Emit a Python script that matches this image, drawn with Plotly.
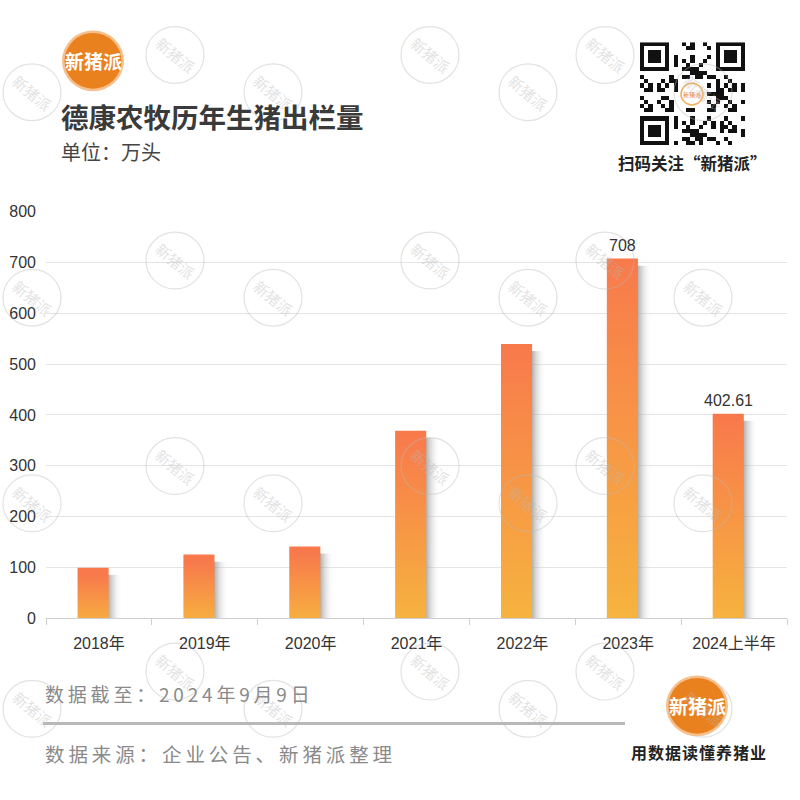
import plotly.graph_objects as go

# ---------------- data ----------------
categories = ["2018年", "2019年", "2020年", "2021年", "2022年", "2023年", "2024上半年"]
values = [99, 125, 141, 369, 540, 708, 402.61]
value_labels = ["", "", "", "", "", "708", "402.61"]
y_ticks = [0, 100, 200, 300, 400, 500, 600, 700, 800]

title_text = "德康农牧历年生猪出栏量"
unit_text = "单位：万头"
date_text = "数据截至：2024年9月9日"
source_text = "数据来源：企业公告、新猪派整理"
brand_text = "新猪派"
slogan_text = "用数据读懂养猪业"
qr_text = "扫码关注“新猪派”"

# ---------------- helpers (pixel -> paper) ----------------
W = 800.0
def X(px):
    return px / W
def Y(py):
    return 1 - py / W

def spaced(s, sep="\u2009"):
    return sep.join(list(s))

BAR_HALF = 0.147
BAR_OFF = -0.055
TOP_C = "#f87a4c"
BOT_C = "#f6b53e"
CJK = "Noto Sans CJK SC"
NUM = "Liberation Sans, Noto Sans CJK SC"

fig = go.Figure()

# bar shadows
for i, v in enumerate(values):
    c = i + BAR_OFF
    x0 = c + BAR_HALF - 0.02
    x1 = x0 + 0.15
    ytop = max(v - 14, 0)
    fig.add_trace(go.Scatter(
        x=[x0, x1, x1, x0, x0], y=[0, 0, ytop, ytop, 0],
        mode="lines", line=dict(width=0, color="rgba(0,0,0,0)"),
        fill="toself",
        fillgradient=dict(type="horizontal",
                          colorscale=[[0, "rgba(120,120,120,0.75)"], [0.35, "rgba(160,160,160,0.45)"],
                                      [1, "rgba(255,255,255,0)"]],
                          start=x0, stop=x1),
        hoverinfo="skip", showlegend=False))

# bars with vertical gradient
for i, v in enumerate(values):
    c = i + BAR_OFF
    x0, x1 = c - BAR_HALF, c + BAR_HALF
    fig.add_trace(go.Scatter(
        x=[x0, x1, x1, x0, x0], y=[0, 0, v, v, 0],
        mode="lines", line=dict(width=0, color="rgba(0,0,0,0)"),
        fill="toself",
        fillgradient=dict(type="vertical",
                          colorscale=[[0, BOT_C], [1, TOP_C]],
                          start=0, stop=v),
        name=categories[i], hovertemplate=categories[i] + ": %{text}<extra></extra>",
        text=[str(v)] * 5, showlegend=False))

# ---------------- fake QR code (decorative) ----------------
N = 25
qr = [[0] * N for _ in range(N)]
for r in range(N):
    for cc in range(N):
        qr[r][cc] = 1 if ((r * 7 + cc * 13 + (r * cc) % 5 + (r // 3) * (cc // 4)) % 5) < 2 else 0
def finder(r0, c0):
    for r in range(-1, 8):
        for cc in range(-1, 8):
            rr, c2 = r0 + r, c0 + cc
            if 0 <= rr < N and 0 <= c2 < N:
                if r in (-1, 7) or cc in (-1, 7):
                    qr[rr][c2] = 0
                elif r in (0, 6) or cc in (0, 6):
                    qr[rr][c2] = 1
                elif 2 <= r <= 4 and 2 <= cc <= 4:
                    qr[rr][c2] = 1
                else:
                    qr[rr][c2] = 0
finder(0, 0); finder(0, N - 7); finder(N - 7, 0)
for r in range(9, 16):
    for cc in range(9, 16):
        qr[r][cc] = 0
fig.add_trace(go.Heatmap(
    z=qr[::-1], xaxis="x2", yaxis="y2",
    colorscale=[[0, "#ffffff"], [1, "#111111"]], showscale=False,
    hoverinfo="skip", zmin=0, zmax=1))

# ---------------- layout ----------------
fig.update_layout(
    width=800, height=800,
    margin=dict(l=0, r=0, t=0, b=0),
    paper_bgcolor="white", plot_bgcolor="white",
    xaxis=dict(domain=[X(46), X(787)], range=[-0.5, 6.5],
               tickmode="array", tickvals=list(range(len(categories))), ticktext=categories,
               ticks="", showgrid=False, zeroline=False,
               showline=True, linecolor="#cfcfcf", linewidth=1,
               tickfont=dict(family=NUM, size=16, color="#333333"),
               ticklabelstandoff=11,
               minor=dict(tickmode="array", tickvals=[k - 0.5 for k in range(len(categories) + 1)],
                          ticks="outside", ticklen=6, tickcolor="#cfcfcf", showgrid=False)),
    yaxis=dict(domain=[Y(623.3), Y(208.3)], range=[0, 800],
               tickmode="array", tickvals=y_ticks, ticks="",
               showgrid=True, gridcolor="#e4e4e4", gridwidth=1,
               zeroline=False, showline=False,
               tickfont=dict(family=NUM, size=16, color="#333333"),
               ticklabelstandoff=9),
    xaxis2=dict(domain=[X(640), X(745)], range=[-0.5, N - 0.5], visible=False, anchor="y2"),
    yaxis2=dict(domain=[Y(140), Y(35)], range=[-0.5, N - 0.5], visible=False, anchor="x2"),
)

shapes = []
annotations = []

# value labels (from data)
for i, (v, lab) in enumerate(zip(values, value_labels)):
    if lab:
        annotations.append(dict(xref="x", yref="y", x=i + BAR_OFF, y=v, text=lab,
                                showarrow=False, xanchor="center", yanchor="bottom", yshift=3,
                                font=dict(family=NUM, size=16, color="#333333")))

# watermarks
wm_col = "rgba(185,185,185,0.42)"
for yb in [48, 258, 468, 678]:
    for xb in [-66, 175, 430, 605]:
        for dx, dy in [(0, 0), (98, 38)]:
            cx, cy = xb + dx, yb + dy
            if cx < 0:
                continue
            rr = 29
            shapes.append(dict(type="circle", xref="paper", yref="paper",
                               x0=X(cx - rr), x1=X(cx + rr), y0=Y(cy + rr), y1=Y(cy - rr),
                               line=dict(color=wm_col, width=1.2), layer="above"))
            annotations.append(dict(xref="paper", yref="paper", x=X(cx), y=Y(cy),
                                    xanchor="center", yanchor="middle",
                                    text=brand_text, showarrow=False, textangle=40,
                                    font=dict(family=CJK, size=15, color=wm_col)))

# logos
def logo(cx, cy, r):
    shapes.append(dict(type="circle", xref="paper", yref="paper",
                       x0=X(cx - r), x1=X(cx + r), y0=Y(cy + r), y1=Y(cy - r),
                       fillcolor="#f6c08e", line=dict(width=0), layer="above"))
    r2 = r - 2.5
    shapes.append(dict(type="circle", xref="paper", yref="paper",
                       x0=X(cx - r2), x1=X(cx + r2), y0=Y(cy + r2), y1=Y(cy - r2),
                       fillcolor="#e9811f", line=dict(width=0), layer="above"))
    annotations.append(dict(xref="paper", yref="paper", x=X(cx), y=Y(cy),
                            xanchor="center", yanchor="middle",
                            text="<b>" + brand_text + "</b>", showarrow=False,
                            font=dict(family=CJK, size=19, color="white")))

logo(93, 54, 31)
logo(697, 713, 31)

# QR center logo
cx, cy, r = 692, 88, 11
shapes.append(dict(type="circle", xref="paper", yref="paper",
                   x0=X(cx - r), x1=X(cx + r), y0=Y(cy + r), y1=Y(cy - r),
                   fillcolor="white", line=dict(color="#f0b060", width=1.5), layer="above"))
annotations.append(dict(xref="paper", yref="paper", x=X(cx), y=Y(cy),
                        xanchor="center", yanchor="middle",
                        text=brand_text, showarrow=False,
                        font=dict(family=CJK, size=6, color="#e9811f")))

# separator line
shapes.append(dict(type="line", xref="paper", yref="paper",
                   x0=X(43), x1=X(625), y0=Y(731), y1=Y(731),
                   line=dict(color="#b8b8b8", width=3)))

# texts
annotations += [
    dict(xref="paper", yref="paper", x=X(60), y=Y(110), xanchor="left", yanchor="middle",
         text="<b>" + title_text + "</b>", showarrow=False, borderpad=0,
         font=dict(family=CJK, size=27.5, color="#3a3a3a")),
    dict(xref="paper", yref="paper", x=X(60), y=Y(147), xanchor="left", yanchor="middle",
         text=unit_text, showarrow=False, borderpad=0,
         font=dict(family=CJK, size=20, color="#444444")),
    dict(xref="paper", yref="paper", x=X(692), y=Y(158), xanchor="center", yanchor="middle",
         text="<b>" + qr_text + "</b>", showarrow=False,
         font=dict(family=CJK, size=16.5, color="#222222")),
    dict(xref="paper", yref="paper", x=X(43), y=Y(700), xanchor="left", yanchor="middle",
         text=spaced(date_text), showarrow=False,
         font=dict(family=CJK, size=19, color="#8a8a8a")),
    dict(xref="paper", yref="paper", x=X(43), y=Y(762), xanchor="left", yanchor="middle",
         text=spaced(source_text), showarrow=False,
         font=dict(family=CJK, size=19.5, color="#8a8a8a")),
    dict(xref="paper", yref="paper", x=X(698), y=Y(760), xanchor="center", yanchor="middle",
         text="<b>" + spaced(slogan_text, "\u200a") + "</b>", showarrow=False,
         font=dict(family=CJK, size=16, color="#222222")),
]

fig.update_layout(shapes=shapes, annotations=annotations)
fig.write_html("out.html")
